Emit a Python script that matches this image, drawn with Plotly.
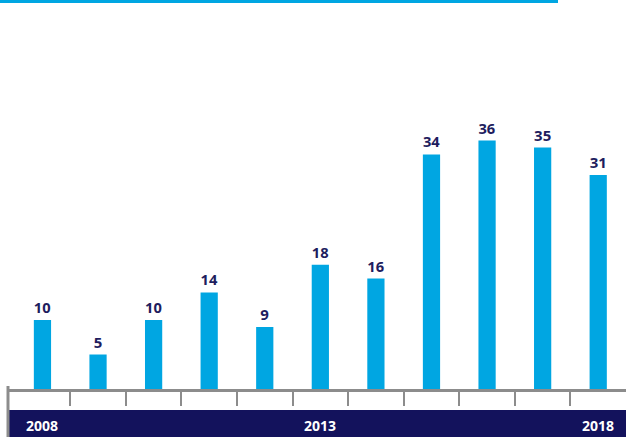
import plotly.graph_objects as go

years = [2008, 2009, 2010, 2011, 2012, 2013, 2014, 2015, 2016, 2017, 2018]
values = [10, 5, 10, 14, 9, 18, 16, 34, 36, 35, 31]
year_labels = ["2008", "2013", "2018"]
label_years = [2008, 2013, 2018]

W, H = 626, 437
ML, MR, MT, MB = 8, 0, 0, 48
PW, PH = W - ML - MR, H - MT - MB

def px_x(p):  # pixel -> paper x
    return (p - ML) / PW

def px_y(p):  # pixel -> paper y
    return (H - MB - p) / PH

BAR = "#00A6E2"
NAVY = "#13125C"
GRAY = "#8C8C8C"

fig = go.Figure(go.Bar(
    x=years, y=values,
    marker=dict(color=BAR, line=dict(width=0)),
    text=[str(v) for v in values],
    textposition="outside",
    textfont=dict(family="Open Sans", size=15, color="#1E1D5E", weight="bold"),
    cliponaxis=False,
    width=0.31,
))

fig.update_layout(
    width=W, height=H,
    margin=dict(l=ML, r=MR, t=MT, b=MB),
    paper_bgcolor="white", plot_bgcolor="white",
    showlegend=False,
    font=dict(family="Open Sans"),
    xaxis=dict(
        range=[2007.38, 2018.5],
        showgrid=False, zeroline=False,
        showline=True, linecolor=GRAY, linewidth=3,
        tickmode="array", tickvals=[y + 0.5 for y in years[:-1]],
        ticks="outside", ticklen=14, tickwidth=2, tickcolor=GRAY,
        showticklabels=False,
        fixedrange=True,
    ),
    yaxis=dict(
        range=[0, PH / 6.9],
        showgrid=False, zeroline=False, showline=False,
        showticklabels=False, ticks="",
    ),
)

shapes = [
    # top cyan rule
    dict(type="rect", xref="paper", yref="paper",
         x0=px_x(0), x1=px_x(558), y0=px_y(3), y1=px_y(0),
         fillcolor="#00A6E2", line=dict(width=0), layer="above"),
    # navy band
    dict(type="rect", xref="paper", yref="paper",
         x0=px_x(9), x1=px_x(626), y0=px_y(437), y1=px_y(410),
         fillcolor=NAVY, line=dict(width=0)),
    # left vertical gray rule
    dict(type="line", xref="paper", yref="paper",
         x0=px_x(8), x1=px_x(8), y0=px_y(437), y1=px_y(386),
         line=dict(color=GRAY, width=3)),
]
fig.update_layout(shapes=shapes)

for lbl, yv in zip(year_labels, label_years):
    fig.add_annotation(
        x=yv, xref="x", y=px_y(425), yref="paper",
        text=lbl, showarrow=False,
        font=dict(family="Open Sans", size=14, color="white", weight="bold"),
        xanchor="center", yanchor="middle",
    )

fig.write_html(
    "out.html",
    config={"displayModeBar": False},
    post_script="document.body.style.margin='0';document.body.style.overflow='hidden';",
)
